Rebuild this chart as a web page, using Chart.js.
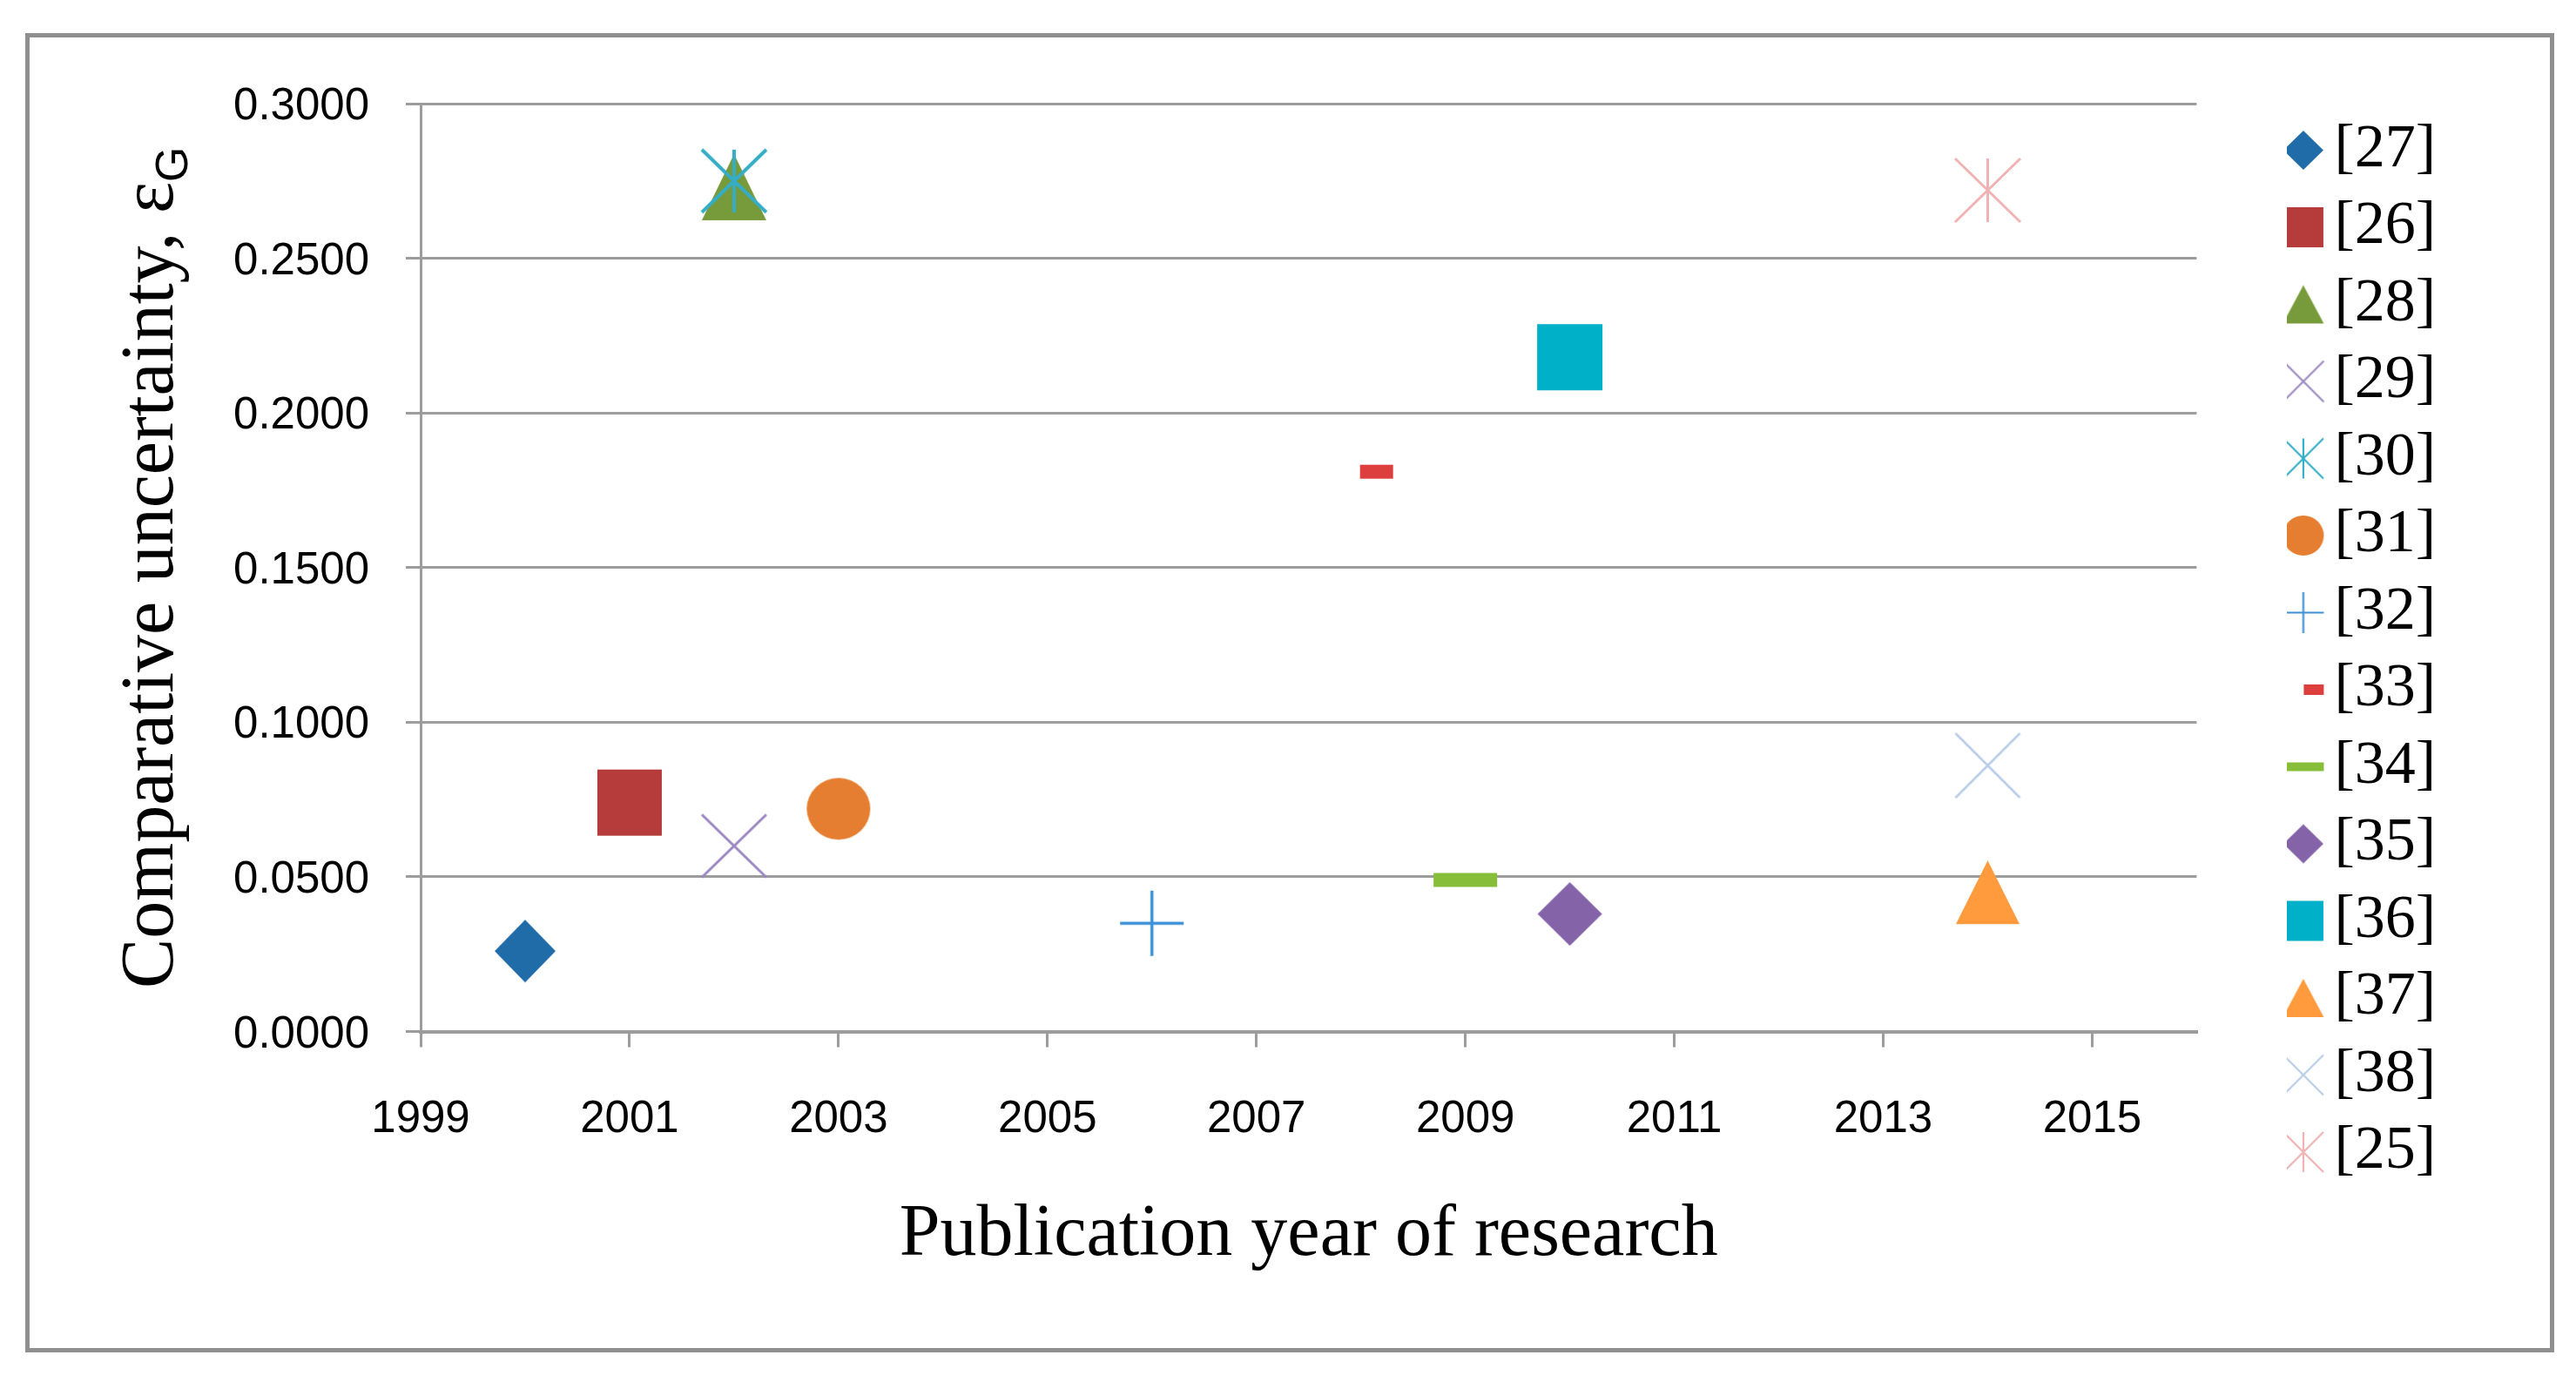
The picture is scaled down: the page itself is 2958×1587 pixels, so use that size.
<!DOCTYPE html>
<html>
<head>
<meta charset="utf-8">
<script src="https://cdn.jsdelivr.net/npm/chart.js@4.4.1/dist/chart.umd.min.js"></script>
<style>
  html, body { margin: 0; padding: 0; background: #fff; }
  #frame {
    position: absolute; left: 29px; top: 38px;
    width: 2894px; height: 1505px;
    border: 5px solid #8f8f8f; background: #fff;
  }
</style>
</head>
<body>
<div id="frame"><canvas id="chart"></canvas></div>
<script>
// data
const refs = ['[27]', '[26]', '[28]', '[29]', '[30]', '[31]', '[32]', '[33]', '[34]', '[35]', '[36]', '[37]', '[38]', '[25]'];
const years = [2000, 2001, 2002, 2002, 2002, 2003, 2006, 2008.15, 2009, 2010, 2010, 2014, 2014, 2014];
const uncertainty = [0.026, 0.074, 0.273, 0.060, 0.275, 0.072, 0.035, 0.181, 0.049, 0.038, 0.218, 0.045, 0.086, 0.272];
const xTicks = [1999, 2001, 2003, 2005, 2007, 2009, 2011, 2013, 2015];
const yTicks = [0, 0.05, 0.1, 0.15, 0.2, 0.25, 0.3];

const xTitle = 'Publication year of research';
const yTitle = 'Comparative uncertainty, \u03b5';
const ySub = 'G';

// marker look per series (Excel style markers)
const colors = ['#1f6ca8', '#b63c3b', '#779a3a', '#9b87c0', '#35adc6', '#e67e31', '#3d8fd6',
                '#dd3f3f', '#86be3a', '#8463a9', '#00afc8', '#ff9b3d', '#b8cce8', '#f0b3b3'];
const shapes = ['diamond', 'square', 'triangle', 'x', 'star', 'circle', 'plus',
                'dash', 'dash', 'diamond', 'square', 'triangle', 'x', 'star'];
const dataW = [70, 74, 74, 74, 74, 73, 73, 38, 73, 74, 75, 73, 74, 75];
const dataH = [72, 76, 76, 72, 72, 71, 75, 16, 16, 73, 76, 73, 74, 73];
const dataLine = [0, 0, 0, 3, 4, 0, 3.5, 0, 0, 0, 0, 0, 2.5, 3];
const legW = [46, 46, 47, 47, 46, 47, 47, 23, 47, 46, 46, 47, 46, 46];
const legH = [45, 46, 44, 47, 46, 46, 47, 12, 10, 45, 46, 44, 46, 46];
const legShift = [0, 0, 0, 0, 0, 0, 0, 12, 0, 0, 0, 0, 0, 0];

function makeMarker(shape, w, h, color, lw, shift) {
  const pad = Math.ceil(lw) + 1;
  const s = shift || 0;
  const c = document.createElement('canvas');
  c.width = w + 2 * pad + 2 * s;
  c.height = h + 2 * pad;
  const g = c.getContext('2d');
  g.translate(pad + 2 * s, pad);
  g.fillStyle = color;
  g.strokeStyle = color;
  g.lineWidth = lw;
  g.beginPath();
  switch (shape) {
    case 'diamond':
      g.moveTo(w / 2, 0); g.lineTo(w, h / 2); g.lineTo(w / 2, h); g.lineTo(0, h / 2);
      g.closePath(); g.fill();
      break;
    case 'square':
    case 'dash':
      g.fillRect(0, 0, w, h);
      break;
    case 'triangle':
      g.moveTo(w / 2, 0); g.lineTo(w, h); g.lineTo(0, h);
      g.closePath(); g.fill();
      break;
    case 'circle':
      g.ellipse(w / 2, h / 2, w / 2, h / 2, 0, 0, Math.PI * 2);
      g.fill();
      break;
    case 'x':
      g.moveTo(0, 0); g.lineTo(w, h); g.moveTo(w, 0); g.lineTo(0, h);
      g.stroke();
      break;
    case 'star':
      g.moveTo(0, 0); g.lineTo(w, h); g.moveTo(w, 0); g.lineTo(0, h);
      g.moveTo(w / 2, 0); g.lineTo(w / 2, h);
      g.stroke();
      break;
    case 'plus':
      g.moveTo(0, h / 2); g.lineTo(w, h / 2); g.moveTo(w / 2, 0); g.lineTo(w / 2, h);
      g.stroke();
      break;
  }
  return c;
}

const datasets = refs.map((r, i) => ({
  label: r,
  data: [{ x: years[i], y: uncertainty[i] }],
  pointStyle: makeMarker(shapes[i], dataW[i], dataH[i], colors[i], dataLine[i]),
  legendStyle: makeMarker(shapes[i], legW[i], legH[i], colors[i], dataLine[i] ? 2.2 : 0, legShift[i]),
  backgroundColor: colors[i],
  borderColor: colors[i],
  pointRadius: 36,
  pointHoverRadius: 36,
  order: -i   // later series painted on top, like the original
}));

// y axis title with a subscript, drawn on the canvas
const yTitlePlugin = {
  id: 'yTitle',
  afterDraw(chart) {
    const ctx = chart.ctx;
    const area = chart.chartArea;
    ctx.save();
    ctx.translate(164, (area.top + area.bottom) / 2);
    ctx.rotate(-Math.PI / 2);
    ctx.fillStyle = '#000';
    ctx.textBaseline = 'alphabetic';
    ctx.font = '86px "Liberation Serif"';
    const w1 = ctx.measureText(yTitle).width;
    ctx.font = '52px "Liberation Sans"';
    const w2 = ctx.measureText(ySub).width;
    const x0 = -(w1 + w2) / 2;
    ctx.font = '86px "Liberation Serif"';
    ctx.fillText(yTitle, x0, 0);
    ctx.font = '52px "Liberation Sans"';
    ctx.fillText(ySub, x0 + w1, 17);
    ctx.restore();
  }
};

const gridColor = '#9c9c9c';

new Chart(document.getElementById('chart'), {
  type: 'scatter',
  data: { datasets: datasets },
  plugins: [yTitlePlugin],
  options: {
    responsive: true,
    maintainAspectRatio: false,
    animation: false,
    layout: { padding: { top: 76, right: 121, bottom: 0, left: 0 } },
    plugins: {
      tooltip: { enabled: false },
      legend: {
        position: 'right',
        align: 'start',
        labels: {
          usePointStyle: true,
          boxWidth: 1,
          padding: 18.5,
          color: '#000',
          font: { family: 'Liberation Serif', size: 70 },
          generateLabels(chart) {
            return chart.data.datasets.map((ds, i) => ({
              text: ds.label,
              pointStyle: ds.legendStyle,
              fillStyle: ds.backgroundColor,
              strokeStyle: ds.borderColor,
              lineWidth: 0,
              hidden: false,
              datasetIndex: i,
              fontColor: '#000'
            }));
          }
        }
      }
    },
    scales: {
      x: {
        type: 'linear',
        min: 1999,
        max: 2016,
        afterBuildTicks(scale) { scale.ticks = xTicks.map(v => ({ value: v })); },
        afterFit(scale) { scale.height = 363.5; },
        grid: { drawOnChartArea: false, color: gridColor, lineWidth: 3, tickLength: 18 },
        border: { color: gridColor, width: 4 },
        ticks: {
          color: '#000',
          font: { family: 'Liberation Sans', size: 51 },
          padding: 53,
          maxRotation: 0,
          autoSkip: false,
          callback: v => String(v)
        },
        title: {
          display: true,
          text: xTitle,
          color: '#000',
          font: { family: 'Liberation Serif', size: 84 },
          padding: { top: 0, bottom: 79 }
        }
      },
      y: {
        type: 'linear',
        min: 0,
        max: 0.3,
        afterBuildTicks(scale) { scale.ticks = yTicks.map(v => ({ value: v })); },
        afterFit(scale) { scale.width = 449; },
        grid: { color: gridColor, lineWidth: 3, tickLength: 17 },
        border: { color: gridColor, width: 3 },
        ticks: {
          color: '#000',
          font: { family: 'Liberation Sans', size: 51 },
          padding: 42,
          labelOffset: 4,
          callback: v => v.toFixed(4)
        }
      },
      // empty axis that only keeps the gap between plot and legend
      gap: {
        type: 'linear',
        position: 'right',
        display: true,
        grid: { display: false },
        border: { display: false },
        ticks: { display: false },
        afterFit(scale) { scale.width = 103.5; }
      }
    }
  }
});
</script>
</body>
</html>
